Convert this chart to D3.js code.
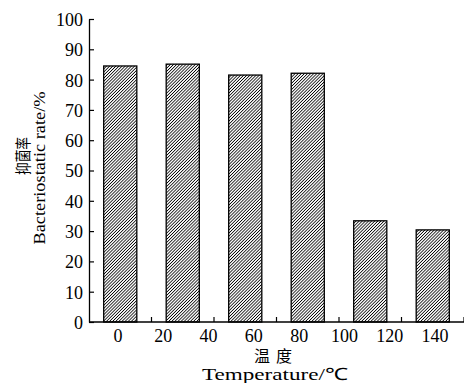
<!DOCTYPE html>
<html>
<head>
<meta charset="utf-8">
<script src="https://cdn.jsdelivr.net/npm/d3@7"></script>
<style>
  body { margin: 0; background: #fff; }
</style>
</head>
<body>
<div id="chart"></div>
<script>
// Bacteriostatic rate vs temperature, hatched bars

const barRates = [84.5, 85.1, 81.5, 82.1, 33.4, 30.4];
const tempLabels = ["0", "20", "40", "60", "80", "100", "120", "140"];
const yTicks = [0, 10, 20, 30, 40, 50, 60, 70, 80, 90, 100];

const width = 464;
const height = 383;
const serif = "Liberation Serif";
const cjk = "Noto Sans CJK SC";

const margin = { top: 19, right: 0, bottom: 61, left: 89 };

let svg = d3
  .select("#chart")
  .append("svg")
  .attr("width", width)
  .attr("height", height)
  .style("display", "block");

svg.append("rect").attr("width", width).attr("height", height).attr("fill", "white");

// hatch pattern for the bars
svg
  .append("defs")
  .append("pattern")
  .attr("id", "hatch")
  .attr("patternUnits", "userSpaceOnUse")
  .attr("width", 2.2)
  .attr("height", 8)
  .attr("patternTransform", "rotate(45)")
  .append("line")
  .attr("x1", 1.1)
  .attr("y1", 0)
  .attr("x2", 1.1)
  .attr("y2", 8)
  .attr("stroke", "black")
  .attr("stroke-width", 0.8);

const y = d3.scaleLinear().domain([0, 100]).range([height - margin.bottom, margin.top]);

// one band per bar, bars sit in the middle of each band
const p = 0.47;
const x = d3
  .scaleBand()
  .domain(d3.range(barRates.length))
  .range([margin.left, width - margin.right])
  .paddingInner(p)
  .paddingOuter(p / 2);

// temperature labels are spread evenly, not lined up with the bars
const xLab = d3.scalePoint().domain(tempLabels).range([118, 435]);

// bars
svg
  .selectAll(".bar")
  .data(barRates)
  .enter()
  .append("rect")
  .attr("class", "bar")
  .attr("x", (d, i) => x(i))
  .attr("y", (d) => y(d))
  .attr("width", x.bandwidth())
  .attr("height", (d) => y(0) - y(d))
  .attr("fill", "url(#hatch)")
  .attr("stroke", "black")
  .attr("stroke-width", 1.3);

// y axis
let yAxis = svg
  .append("g")
  .attr("transform", `translate(${margin.left},0)`)
  .call(d3.axisLeft(y).tickValues(yTicks).tickSize(-5).tickPadding(6).tickSizeOuter(0));
yAxis.attr("font-family", serif).attr("font-size", 18);
yAxis.select(".domain").attr("stroke", "black").attr("stroke-width", 1.3);
yAxis.selectAll(".tick line").attr("stroke", "black").attr("stroke-width", 1.2);
yAxis
  .selectAll(".tick text")
  .style("font-family", serif)
  .style("font-size", "18px")
  .attr("fill", "black")
  .attr("dy", "0.36em");

// x axis line and ticks between the bands
svg
  .append("line")
  .attr("x1", margin.left)
  .attr("x2", width)
  .attr("y1", y(0))
  .attr("y2", y(0))
  .attr("stroke", "black")
  .attr("stroke-width", 1.3);

svg
  .selectAll(".xtick")
  .data(barRates)
  .enter()
  .append("line")
  .attr("class", "xtick")
  .attr("x1", (d, i) => x(i) + x.bandwidth() / 2 + x.step() / 2)
  .attr("x2", (d, i) => x(i) + x.bandwidth() / 2 + x.step() / 2)
  .attr("y1", y(0))
  .attr("y2", y(0) - 5)
  .attr("stroke", "black")
  .attr("stroke-width", 1.2);

svg
  .selectAll(".xlab")
  .data(tempLabels)
  .enter()
  .append("text")
  .attr("class", "xlab")
  .attr("x", (d) => xLab(d))
  .attr("y", 342)
  .attr("text-anchor", "middle")
  .style("font-family", serif)
  .style("font-size", "18px")
  .text((d) => d);

// axis titles
svg
  .append("text")
  .attr("x", 276)
  .attr("y", 362)
  .attr("text-anchor", "middle")
  .style("font-family", cjk)
  .style("font-size", "16px")
  .style("letter-spacing", "6px")
  .text("温度");

svg
  .append("text")
  .attr("x", 275)
  .attr("y", 380)
  .attr("text-anchor", "middle")
  .attr("textLength", 146)
  .attr("lengthAdjust", "spacingAndGlyphs")
  .style("font-family", serif)
  .style("font-size", "17px")
  .text("Temperature/℃");

svg
  .append("text")
  .attr("transform", "translate(29,156) rotate(-90)")
  .attr("text-anchor", "middle")
  .attr("textLength", 38)
  .attr("lengthAdjust", "spacingAndGlyphs")
  .style("font-family", cjk)
  .style("font-size", "16px")
  .text("抑菌率");

svg
  .append("text")
  .attr("transform", "translate(45,168) rotate(-90)")
  .attr("text-anchor", "middle")
  .attr("textLength", 153)
  .attr("lengthAdjust", "spacingAndGlyphs")
  .style("font-family", serif)
  .style("font-size", "16px")
  .text("Bacteriostatic rate/%");
</script>
</body>
</html>
